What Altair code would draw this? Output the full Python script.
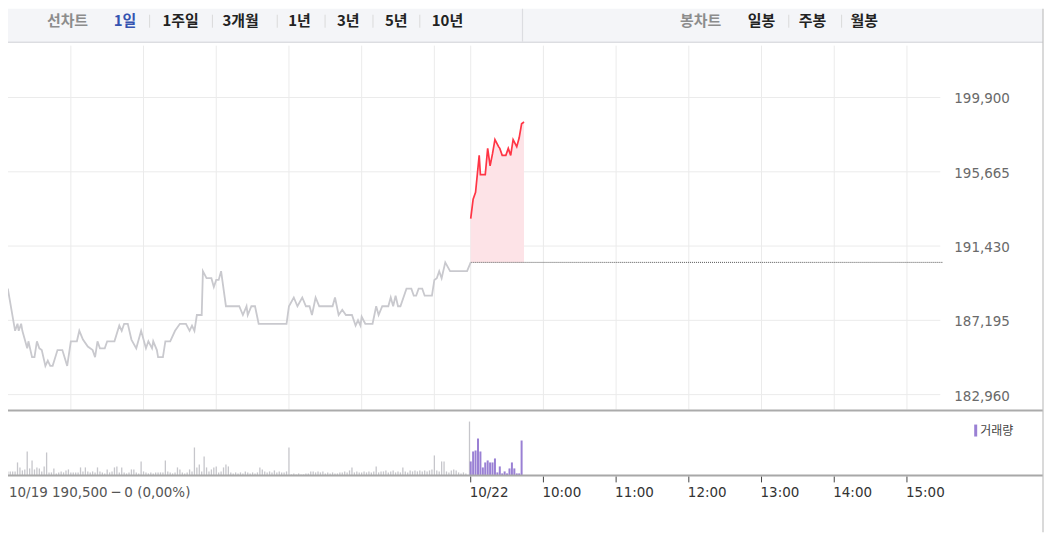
import altair as alt
import pandas as pd

# ---------------- data ----------------
prev_times = ["09:00", "09:08", "09:14", "09:16", "09:17", "09:19", "09:20", "09:24", "09:25", "09:28",
              "09:30", "09:32", "09:34", "09:36", "09:39", "09:41", "09:43", "09:45", "09:49", "09:53",
              "09:57", "10:00", "10:05", "10:07", "10:10", "10:14", "10:18", "10:20", "10:22", "10:24",
              "10:28", "10:30", "10:36", "10:40", "10:42", "10:44", "10:47", "10:50", "10:54", "10:58",
              "11:02", "11:04", "11:07", "11:08", "11:11", "11:12", "11:16", "11:18", "11:22", "11:26",
              "11:30", "11:35", "11:38", "11:40", "11:42", "11:44", "11:48", "11:49", "11:52", "11:56",
              "11:58", "12:00", "12:02", "12:04", "12:08", "12:19", "12:22", "12:25", "12:26", "12:29",
              "12:32", "12:35", "12:58", "13:00", "13:04", "13:07", "13:11", "13:14", "13:17", "13:19",
              "13:22", "13:25", "13:36", "13:38", "13:41", "13:44", "13:47", "13:52", "13:55", "13:57",
              "13:59", "14:00", "14:03", "14:09", "14:12", "14:14", "14:17", "14:22", "14:24", "14:26",
              "14:28", "14:30", "14:32", "14:37", "14:41", "14:43", "14:45", "14:47", "14:50", "14:52",
              "14:58", "15:00", "15:02", "15:04", "15:06", "15:09", "15:13", "15:27", "15:30"]
prev_prices = [187000, 189000, 186600, 187000, 186600, 187000, 186600, 185600, 186000, 185100,
               185100, 186000, 185600, 185500, 184600, 184900, 184600, 184600, 185500, 185500,
               184600, 186000, 186000, 186600, 186100, 185700, 185500, 185100, 186000, 185600,
               185600, 186000, 186000, 186900, 186600, 187000, 187000, 186100, 185600, 186600,
               185600, 186000, 185600, 186000, 185500, 185100, 185100, 186000, 186000, 186600,
               187000, 187000, 186600, 186900, 186600, 187500, 187500, 190000, 189600, 189600,
               189100, 189500, 189500, 190000, 188000, 188000, 187500, 188000, 187500, 188000,
               188000, 187000, 187000, 188000, 188500, 188000, 188500, 188000, 188000, 187500,
               188500, 188000, 188000, 188500, 187500, 187800, 187500, 187500, 186900, 187200,
               186900, 187400, 187000, 187000, 188000, 187500, 188000, 188000, 188500, 188000,
               188600, 188000, 188000, 189000, 189000, 188600, 188600, 189000, 189000, 188600,
               188600, 189500, 189600, 190000, 189600, 190500, 190000, 190000, 190500]

today_times = ["09:00", "09:02", "09:04", "09:07", "09:08", "09:12", "09:14", "09:16", "09:18", "09:20",
               "09:23", "09:24", "09:26", "09:29", "09:31", "09:33", "09:35", "09:38", "09:40", "09:42",
               "09:44"]
today_prices = [193000, 194100, 194500, 196600, 195500, 195500, 197000, 196000, 196700, 197500,
                197100, 197000, 196600, 196600, 197000, 196600, 197500, 197100, 197600, 198400,
                198500]

prev_close = 190500

# volume (thousand shares), 2-minute bars; previous session starts 09:02
prev_vol = [11, 4, 8, 4, 4, 4, 4, 13, 8, 5, 6, 24, 7, 15, 6, 8, 7, 4, 9, 23,
            3, 3, 7, 2, 3, 4, 3, 5, 6, 3, 3, 3, 3, 8, 4, 8, 4, 3, 4, 3,
            8, 4, 3, 2, 6, 3, 4, 8, 9, 3, 8, 3, 2, 3, 6, 6, 3, 2, 14, 4,
            3, 2, 3, 2, 3, 3, 3, 3, 15, 4, 3, 2, 3, 8, 6, 3, 2, 3, 6, 4,
            28, 8, 11, 4, 19, 8, 4, 6, 8, 9, 3, 4, 8, 11, 9, 3, 2, 3, 2, 3,
            2, 4, 3, 2, 3, 2, 3, 8, 6, 4,
            3, 4, 3, 5, 3, 4, 3, 3, 4, 28, 1, 2, 1, 2, 1, 1, 2, 2, 4, 4,
            3, 4, 3, 4, 2, 3, 2, 3, 2, 2, 3, 3, 4, 3, 5, 8, 3, 4, 3, 3,
            4, 3, 4, 3, 4, 9, 3, 4, 4, 5, 3, 4, 5, 3, 4, 3, 8, 4, 3, 5,
            4, 5, 4, 5, 4, 5, 4, 5, 6, 20, 5, 4, 14, 14, 4, 3, 5, 6, 5, 3,
            2, 3, 2]
close_vol_time = "15:29"
close_vol = 54
today_vol = [14, 24, 25, 37, 24, 8, 13, 15, 13, 13, 17, 3, 9, 2, 4, 2, 7, 13, 7, 2, 2, 35]

price_ticks = [182960, 187195, 191430, 195665, 199900]
prev_grid_hours = ["10:00", "11:00", "12:00", "13:00", "14:00", "15:00"]
today_hours = ["09:00", "10:00", "11:00", "12:00", "13:00", "14:00", "15:00"]
today_hour_labels = ["10/22", "10:00", "11:00", "12:00", "13:00", "14:00", "15:00"]
info_text = "10/19 190,500 ─ 0 (0,00%)"

period_tabs = ["선차트", "1일", "1주일", "3개월", "1년", "3년", "5년", "10년"]
candle_tabs = ["봉차트", "일봉", "주봉", "월봉"]
legend_label = "거래량"

# ---------------- helpers ----------------
SESSION = 390  # minutes 09:00-15:30


def minute(t, day):
    h, m = t.split(":")
    return day * SESSION + (int(h) - 9) * 60 + int(m)


prev_df = pd.DataFrame({"m": [minute(t, 0) for t in prev_times], "price": prev_prices})
today_df = pd.DataFrame({"m": [minute(t, 1) for t in today_times], "price": today_prices})

gray_vol_df = pd.DataFrame({
    "m": [2 + 2 * i for i in range(len(prev_vol))] + [minute(close_vol_time, 0)],
    "vol": prev_vol + [close_vol],
})
purple_vol_df = pd.DataFrame({
    "m": [SESSION + 2 * i for i in range(len(today_vol))],
    "vol": today_vol,
})

grid_df = pd.DataFrame({"m": [minute(t, 0) for t in prev_grid_hours] + [minute(t, 1) for t in today_hours]})
price_tick_df = pd.DataFrame({"price": price_ticks})
hour_tick_df = pd.DataFrame({"m": [minute(t, 1) for t in today_hours], "lab": today_hour_labels})
ref_df = pd.DataFrame({"m": [SESSION], "m2": [2 * SESSION], "price": [prev_close]})

# ---------------- layout (pixels, chart coordinates) ----------------
W, H = 937, 468
X_SCALE = alt.Scale(domain=[0, 2 * SESSION], range=[-9.9, 938.0], nice=False, zero=False)
PRICE_SCALE = alt.Scale(domain=[price_ticks[0], price_ticks[-1]], range=[387, 89], nice=False, zero=False)
VOL_SCALE = alt.Scale(domain=[0, 60], range=[468, 408], nice=False, zero=False)

NUM_FONT = "DejaVu Sans"
KR_FONT = "Noto Sans CJK KR"

X = alt.X("m:Q", scale=X_SCALE, axis=None)
Y_PRICE = alt.Y("price:Q", scale=PRICE_SCALE, axis=None)
Y_VOL = alt.Y("vol:Q", scale=VOL_SCALE, axis=None)

# ---- price panel ----
vgrid = alt.Chart(grid_df).mark_rule(color="#ebebeb", strokeWidth=1).encode(
    x=X, y=alt.value(37), y2=alt.value(402)
)
hgrid = alt.Chart(price_tick_df).mark_rule(color="#ebebeb", strokeWidth=1).encode(
    y=Y_PRICE, x=alt.value(0), x2=alt.value(935)
)
price_labels = alt.Chart(price_tick_df).mark_text(
    font=NUM_FONT, fontSize=13.5, align="left", baseline="middle", color="#6a6a6a", dy=2
).encode(
    y=Y_PRICE, x=alt.value(949), text=alt.Text("price:Q", format=",")
)
area = alt.Chart(today_df).mark_area(color="#fde3e7", opacity=1).encode(
    x=X, y=Y_PRICE, y2=alt.datum(prev_close),
)
ref_line = alt.Chart(ref_df).mark_rule(
    color="#555555", strokeWidth=1, strokeDash=[1, 1]
).encode(
    x=X, x2="m2:Q", y=Y_PRICE
)
prev_line = alt.Chart(prev_df).mark_line(color="#c9c9ce", strokeWidth=1.8).encode(x=X, y=Y_PRICE)
today_line = alt.Chart(today_df).mark_line(color="#ff3545", strokeWidth=1.7).encode(x=X, y=Y_PRICE)

# ---- volume panel ----
gray_vol = alt.Chart(gray_vol_df).mark_rule(color="#c6c6cb", strokeWidth=1.3).encode(
    x=X, y=Y_VOL, y2=alt.datum(0),
)
purple_vol = alt.Chart(purple_vol_df).mark_rule(color="#9a80d4", strokeWidth=2).encode(
    x=X, y=Y_VOL, y2=alt.datum(0),
)

# ---- time axis (ticks + labels) ----
hour_ticks = alt.Chart(hour_tick_df).mark_rule(color="#444444", strokeWidth=1).encode(
    x=X, y=alt.value(469), y2=alt.value(475)
)
hour_labels = alt.Chart(hour_tick_df).mark_text(
    font=NUM_FONT, fontSize=13.5, align="left", baseline="middle", color="#333333", dx=-1
).encode(
    x=X, y=alt.value(486), text="lab:N"
)

# ---- frame and header (UI decoration, pixel positions) ----
def px(f):
    return alt.X(f, scale=None, axis=None)


def py(f):
    return alt.Y(f, scale=None, axis=None)


header_bg = alt.Chart(pd.DataFrame({"x": [0], "x2": [1038], "y": [0], "y2": [33]})).mark_rect(
    color="#f4f5f8"
).encode(x=px("x:Q"), x2="x2:Q", y=py("y:Q"), y2="y2:Q")

hlines = pd.DataFrame({
    "x": [0, 0, 0], "x2": [1038, 1038, 1038], "y": [33.5, 403, 468],
    "c": ["#dcdde1", "#ababab", "#a8a8a8"], "w": [1.5, 2, 2],
})
h_rules = alt.Chart(hlines).mark_rule().encode(
    x=px("x:Q"), x2="x2:Q", y=py("y:Q"),
    color=alt.Color("c:N", scale=None), strokeWidth=alt.StrokeWidth("w:Q", scale=None),
)
vlines = pd.DataFrame({
    "x": [516, 1038], "y": [0, 0], "y2": [33, 525], "c": ["#dcdde1", "#c2c2c2"],
})
v_rules = alt.Chart(vlines).mark_rule(strokeWidth=1.2).encode(
    x=px("x:Q"), y=py("y:Q"), y2="y2:Q", color=alt.Color("c:N", scale=None)
)

tab_x = [39, 106, 155, 215, 281, 330, 378, 425, 674, 742, 793, 845]
tab_colors = ["#8c8c8c", "#3553b0"] + ["#222222"] * 6 + ["#8c8c8c"] + ["#222222"] * 3
tabs_df = pd.DataFrame({"t": period_tabs + candle_tabs, "x": tab_x, "c": tab_colors})
tabs = alt.Chart(tabs_df).mark_text(
    font=KR_FONT, fontSize=15, fontWeight="bold", align="left", baseline="middle"
).encode(
    x=px("x:Q"), y=alt.value(12), text="t:N", color=alt.Color("c:N", scale=None)
)
sep_df = pd.DataFrame({"x": [142, 205, 270, 318, 366, 413, 783, 836]})
seps = alt.Chart(sep_df).mark_rule(color="#dadada", strokeWidth=1).encode(
    x=px("x:Q"), y=alt.value(6), y2=alt.value(19)
)

legend_mark = alt.Chart(pd.DataFrame({"x": [970.5]})).mark_rule(color="#9a80d4", strokeWidth=3).encode(
    x=px("x:Q"), y=alt.value(417), y2=alt.value(429)
)
legend_text = alt.Chart(pd.DataFrame({"t": [legend_label]})).mark_text(
    font=KR_FONT, fontSize=12, align="left", baseline="middle", color="#444444"
).encode(x=alt.value(975), y=alt.value(423), text="t:N")

info = alt.Chart(pd.DataFrame({"t": [info_text]})).mark_text(
    font=NUM_FONT, fontSize=13.5, align="left", baseline="middle", color="#555555"
).encode(x=alt.value(1), y=alt.value(486), text="t:N")

chart = alt.layer(
    header_bg, vgrid, hgrid, area, ref_line, prev_line, today_line, price_labels,
    gray_vol, purple_vol, hour_ticks, hour_labels,
    h_rules, v_rules, tabs, seps, legend_mark, legend_text, info,
).resolve_scale(
    x="independent", y="independent", color="independent", strokeWidth="independent"
).properties(
    width=W, height=H,
    autosize=alt.AutoSizeParams(type="none"),
    padding={"left": 0, "top": 0, "right": 102, "bottom": 57},
    background="white",
).configure_view(stroke=None)

chart.save("out.html", embed_options={"renderer": "svg", "actions": False})
